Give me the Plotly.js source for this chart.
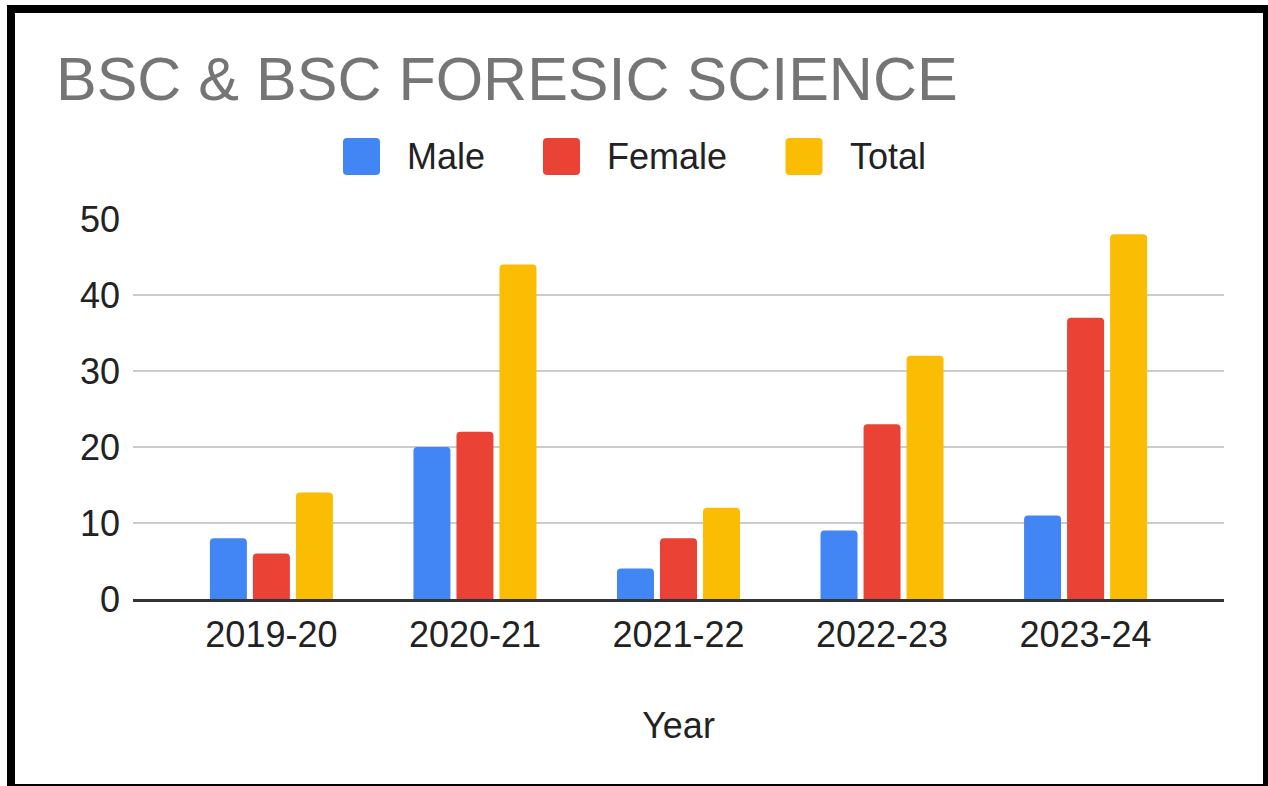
<!DOCTYPE html>
<html>
<head>
<meta charset="utf-8">
<script src="https://cdn.plot.ly/plotly-3.0.1.min.js"></script>
<style>
  html, body { margin: 0; padding: 0; background: #fff; overflow: hidden; }
  #wrap { position: relative; width: 1268px; height: 786px; }
  #chart { position: absolute; left: 0; top: 0; width: 1268px; height: 786px; }
  #frame { position: absolute; left: 7px; top: 5px; width: 1264px; height: 787px;
           box-sizing: border-box; border: 8px solid #000; pointer-events: none; }
</style>
</head>
<body>
<div id="wrap">
  <div id="chart"></div>
  <div id="frame"></div>
</div>
<script>
const years = ["2019-20", "2020-21", "2021-22", "2022-23", "2023-24"];
const male = [8, 20, 4, 9, 11];
const female = [6, 22, 8, 23, 37];
const total = [14, 44, 12, 32, 48];
const seriesNames = ["Male", "Female", "Total"];
const seriesColors = ["#4285F4", "#EA4335", "#FBBC04"];
const yTicks = [0, 10, 20, 30, 40, 50];

const W = 1268, H = 786;
const mL = 133, mR = 44, mT = 219, mB = 186.5;
const plotW = W - mL - mR, plotH = H - mT - mB;
const px = v => (v - mL) / plotW;
const py = v => (H - mB - v) / plotH;

const seriesData = [male, female, total];
const traces = seriesData.map((vals, i) => ({
  type: "bar",
  name: seriesNames[i],
  x: years,
  y: vals,
  marker: { color: seriesColors[i] },
  hoverinfo: "x+y+name"
}));

// custom legend (large rounded squares like the reference)
const legendSquares = [361.5, 561.5, 804];
const legendTextX = [405, 605, 848];
const legendY = 156.5;
const r = 4, h = 18.5;
const rrPath = `M ${-h + r},${-h} L ${h - r},${-h} Q ${h},${-h} ${h},${-h + r} L ${h},${h - r} Q ${h},${h} ${h - r},${h} L ${-h + r},${h} Q ${-h},${h} ${-h},${h - r} L ${-h},${-h + r} Q ${-h},${-h} ${-h + r},${-h} Z`;

const shapes = legendSquares.map((cx, i) => ({
  type: "path",
  xref: "paper", yref: "paper",
  xsizemode: "pixel", ysizemode: "pixel",
  xanchor: px(cx), yanchor: py(legendY),
  path: rrPath,
  fillcolor: seriesColors[i],
  line: { width: 0 },
  layer: "above"
}));

const annotations = seriesNames.map((n, i) => ({
  text: n,
  xref: "paper", yref: "paper",
  x: px(legendTextX[i]), y: py(legendY),
  xanchor: "left", yanchor: "middle",
  showarrow: false,
  font: { family: "Liberation Sans, Arial, sans-serif", size: 36, color: "#222222" }
}));

const layout = {
  width: W, height: H,
  margin: { l: mL, r: mR, t: mT, b: mB, pad: 0 },
  paper_bgcolor: "#ffffff",
  plot_bgcolor: "#ffffff",
  font: { family: "Liberation Sans, Arial, sans-serif", size: 36, color: "#222222" },
  title: {
    text: "BSC & BSC FORESIC SCIENCE",
    font: { family: "Liberation Sans, Arial, sans-serif", size: 61, color: "#757575" },
    xref: "container", yref: "container",
    x: 56 / W, xanchor: "left",
    y: 1 - 79 / H, yanchor: "middle"
  },
  showlegend: false,
  barmode: "group",
  bargap: 0.366,
  bargroupgap: 0.14,
  barcornerradius: 4,
  xaxis: {
    type: "category",
    range: [-0.68, 4.68],
    showgrid: false,
    zeroline: false,
    showline: true,
    linecolor: "#333333",
    linewidth: 2.5,
    ticks: "",
    ticklabelstandoff: 2,
    tickfont: { size: 36, color: "#222222" },
    title: { text: "Year", font: { size: 36, color: "#222222" }, standoff: 59 },
    automargin: false,
    fixedrange: true
  },
  yaxis: {
    range: [0, 50],
    tickvals: yTicks,
    ticktext: yTicks.map(String),
    showgrid: true,
    gridcolor: "#cccccc",
    gridwidth: 2,
    zeroline: false,
    showline: false,
    ticks: "",
    ticklabelstandoff: 12,
    tickfont: { size: 36, color: "#222222" },
    automargin: false,
    fixedrange: true
  },
  shapes: shapes,
  annotations: annotations
};

Plotly.newPlot("chart", traces, layout, { displayModeBar: false, staticPlot: true });
</script>
</body>
</html>
